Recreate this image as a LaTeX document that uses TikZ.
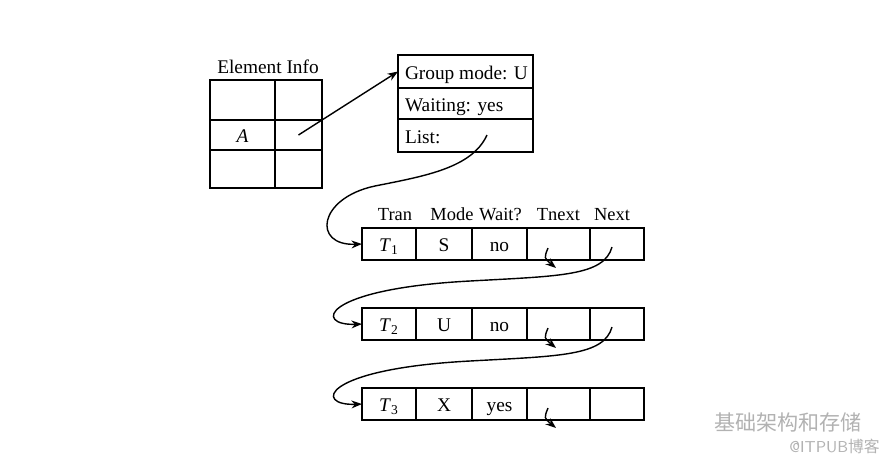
\documentclass[tikz,border=0pt]{standalone}
\usepackage{fontspec}
\setmainfont{Liberation Serif}
\newfontfamily\cjk{Noto Sans CJK SC}
\usetikzlibrary{positioning,arrows.meta}
\newcommand\lft[1]{\makebox[2.42cm][l]{#1}}
\tikzset{x=0.02cm,y=-0.02cm,
  cell/.style={draw,line width=0.8pt,inner sep=0pt,outer sep=0pt,minimum height=0.64cm,
    text height=9.5pt,text depth=0.5pt},
  grp/.style={cell,minimum width=2.7cm},
  head/.style={font=\fontsize{10.5}{12}\selectfont,inner sep=1pt},
  ptr/.style={line width=0.8pt,-{Stealth[length=6pt,width=4.5pt]}},
  wmark/.style={text=black!30}}

\begin{document}
\begin{tikzpicture}[font=\fontsize{11}{13}\selectfont]
        \useasboundingbox (0,0) rectangle (890,461);

        % element info table
        \node [cell,minimum width=1.3cm,minimum height=0.8cm]  (e11) at (242.5,100) {};
        \node [cell,minimum width=0.94cm,minimum height=0.8cm] (e12) [right=0pt of e11] {};
        \node [cell,minimum width=1.3cm,minimum height=0.6cm]  (e21) [below=0pt of e11] {\textit{A}};
        \node [cell,minimum width=0.94cm,minimum height=0.6cm] (e22) [right=0pt of e21] {};
        \node [cell,minimum width=1.3cm,minimum height=0.76cm] (e31) [below=0pt of e21] {};
        \node [cell,minimum width=0.94cm,minimum height=0.76cm](e32) [right=0pt of e31] {};
        \node (einfo) [above=0pt of e11.north east, xshift=-0.14cm] {Element Info};

        % lock group
        \node [grp,minimum height=0.66cm] (g1) at (465.5,71.5)    {\lft{Group mode: U}};
        \node [grp,minimum height=0.62cm] (g2) [below=0pt of g1] {\lft{Waiting: yes}};
        \node [grp,minimum height=0.66cm] (g3) [below=0pt of g2] {\lft{List:}};
        \coordinate (lst) at (487,135);

        % transaction rows
        \node [cell,minimum width=1.08cm] (t1) at (389,244)        {\textit{T}\textsubscript{1}};
        \node [cell,minimum width=1.12cm] (m1) [right=0pt of t1]  {S};
        \node [cell,minimum width=1.1cm]  (w1) [right=0pt of m1]  {no};
        \node [cell,minimum width=1.26cm] (tn1) [right=0pt of w1] {};
        \node [cell,minimum width=1.08cm] (n1) [right=0pt of tn1] {};

        \node [cell,minimum width=1.08cm] (t2) at (389,324)        {\textit{T}\textsubscript{2}};
        \node [cell,minimum width=1.12cm] (m2) [right=0pt of t2]  {U};
        \node [cell,minimum width=1.1cm]  (w2) [right=0pt of m2]  {no};
        \node [cell,minimum width=1.26cm] (tn2) [right=0pt of w2] {};
        \node [cell,minimum width=1.08cm] (n2) [right=0pt of tn2] {};

        \node [cell,minimum width=1.08cm] (t3) at (389,404)        {\textit{T}\textsubscript{3}};
        \node [cell,minimum width=1.12cm] (m3) [right=0pt of t3]  {X};
        \node [cell,minimum width=1.1cm]  (w3) [right=0pt of m3]  {yes};
        \node [cell,minimum width=1.26cm] (tn3) [right=0pt of w3] {};
        \node [cell,minimum width=1.08cm] (n3) [right=0pt of tn3] {};

        \node [head,above=3pt of t1, xshift=0.12cm] (htran)  {Tran};
        \node [head,above=3pt of m1, xshift=0.16cm] (hmode)  {Mode};
        \node [head,above=3pt of w1, xshift=0.02cm] (hwait)  {Wait?};
        \node [head,above=3pt of tn1] (htnext) {Tnext};
        \node [head,above=3pt of n1, xshift=-0.1cm] (hnext)  {Next};

        \coordinate (tp1) at (548,248);
        \coordinate (tq1) at (556,268);
        \coordinate (tp2) at (548,328);
        \coordinate (tq2) at (556,348);
        \coordinate (tp3) at (548,408);
        \coordinate (tq3) at (556,428);
        \coordinate (np1) at (612,247);
        \coordinate (np2) at (612,327);

        % pointers
        \draw [ptr] (e22.center) -- (g1.west);
        \draw [ptr] (lst) .. controls (472,168) and (425,176) .. (375,186)
                          .. controls (318,198) and (312,246) .. (t1.west);
        \draw [ptr] (tp1) .. controls (544,258) .. (tq1);
        \draw [ptr] (tp2) .. controls (544,338) .. (tq2);
        \draw [ptr] (tp3) .. controls (544,418) .. (tq3);
        \draw [ptr] (np1) .. controls (604,276) and (560,276) .. (470,281)
                          .. controls (320,289) and (314,326) .. (t2.west);
        \draw [ptr] (np2) .. controls (604,356) and (560,356) .. (470,361)
                          .. controls (320,369) and (314,406) .. (t3.west);

        % watermark
        \node [wmark,font=\cjk\fontsize{12}{14}\selectfont,anchor=west] (wm1) at (708,422) {基础架构和存储};
        \node [wmark,font=\sffamily\fontsize{9}{11}\selectfont,anchor=east] (wm2) at (886,446) {@ITPUB\cjk 博客};
\end{tikzpicture}
\end{document}
